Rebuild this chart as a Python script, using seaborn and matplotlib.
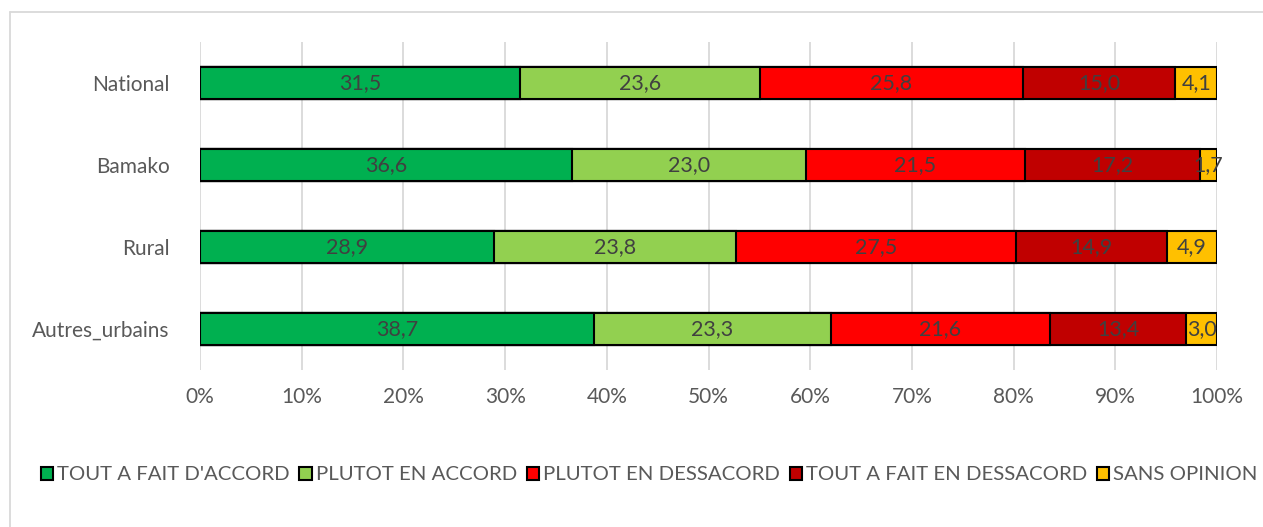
import matplotlib.pyplot as plt
import seaborn as sns
import pandas as pd
import numpy as np
from matplotlib.patches import Patch
from matplotlib.lines import Line2D

regions = ['National', 'Bamako', 'Rural', 'Autres_urbains']
categories = ["TOUT A FAIT D'ACCORD", 'PLUTOT EN ACCORD', 'PLUTOT EN DESSACORD',
              'TOUT A FAIT EN DESSACORD', 'SANS OPINION']
tout_accord = [31.5, 36.6, 28.9, 38.7]
plutot_accord = [23.6, 23.0, 23.8, 23.3]
plutot_dessacord = [25.8, 21.5, 27.5, 21.6]
tout_dessacord = [15.0, 17.2, 14.9, 13.4]
sans_opinion = [4.1, 1.7, 4.9, 3.0]
colors = ['#00B050', '#92D050', '#FF0000', '#C00000', '#FFC000']

sns.set_style("white")
plt.rcParams['font.family'] = ['Lato', 'DejaVu Sans']

df = pd.DataFrame({'region': regions})
series = [tout_accord, plutot_accord, plutot_dessacord, tout_dessacord, sans_opinion]
for name, vals in zip(categories, series):
    df[name] = vals
cum = df[categories].cumsum(axis=1)

fig = plt.figure(figsize=(12.63, 5.27), dpi=100)
ax = fig.add_axes([200 / 1263, 1 - 370 / 527, 1017 / 1263, 328 / 527])

# draw cumulative bars from the longest down so they stack visually
for i in range(len(categories) - 1, -1, -1):
    sns.barplot(x=cum[categories[i]], y=df['region'], color=colors[i], orient='h',
                width=0.4, edgecolor='black', linewidth=1.5, ax=ax, saturation=1)

for i, name in enumerate(categories):
    mids = cum[name] - df[name] / 2
    for j, (m, v) in enumerate(zip(mids, df[name])):
        ax.text(m, j, f'{v:.1f}'.replace('.', ','), ha='center', va='center',
                fontsize=15.5, color='#404040')

ax.set_xlim(0, 100)
ax.set_ylim(3.5, -0.5)
ax.set_xticks(np.arange(0, 101, 10))
ax.set_xticklabels([f'{t}%' for t in range(0, 101, 10)])
ax.xaxis.grid(True, color='#D9D9D9', linewidth=1.3)
ax.set_axisbelow(True)
for s in ax.spines.values():
    s.set_visible(False)
ax.tick_params(axis='both', length=0, labelsize=15, colors='#595959', pad=12)
ax.tick_params(axis='y', pad=22)
ax.set_xlabel('')
ax.set_ylabel('')

handles = [Patch(facecolor=c, edgecolor='black', linewidth=1.5) for c in colors]
fig.legend(handles, categories, loc='center', bbox_to_anchor=(0.514, 1 - 475 / 527),
           ncol=5, frameon=False, fontsize=14.65, labelcolor='#595959',
           handlelength=0.6, handleheight=0.6, handletextpad=0.2, columnspacing=0.48)

# chart-area border (left and top visible)
fig.add_artist(Line2D([10 / 1263, 10 / 1263], [0, 1 - 12 / 527], transform=fig.transFigure,
                      color='#D9D9D9', linewidth=1.3))
fig.add_artist(Line2D([10 / 1263, 1], [1 - 12 / 527, 1 - 12 / 527], transform=fig.transFigure,
                      color='#D9D9D9', linewidth=1.3))

fig.savefig('out.png', dpi=100)
